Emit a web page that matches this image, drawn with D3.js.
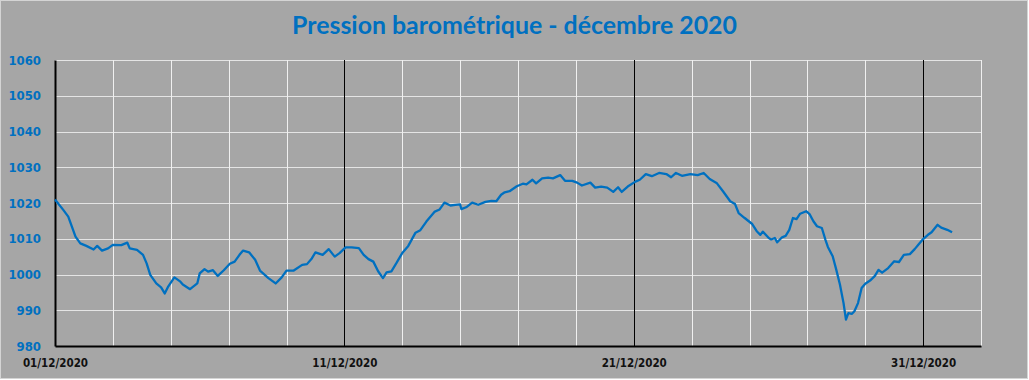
<!DOCTYPE html>
<html>
<head>
<meta charset="utf-8">
<script src="https://cdn.jsdelivr.net/npm/d3@7"></script>
<style>
  body { margin: 0; background: #ffffff; }
  svg { display: block; }
</style>
</head>
<body>
<div id="chart"></div>
<script>
// hours since 01/12/2020 00:00 and pressure (hPa)
var hours = [0, 7, 11, 14, 17, 21, 26, 32, 35, 39, 44, 48, 55, 60, 62, 68, 73, 76, 79, 84,
  88, 91, 94, 99, 104, 106, 112, 118, 120, 124, 127, 131, 135, 140, 145, 149, 153, 156, 161, 166,
  170, 177, 183, 188, 192, 198, 205, 209, 213, 216, 222, 227, 232, 236, 241, 246, 252, 256, 260, 264,
  268, 272, 275, 279, 283, 288, 293, 299, 303, 308, 315, 319, 323, 328, 332, 336, 337, 341, 346, 351,
  357, 362, 366, 370, 373, 377, 383, 388, 391, 396, 399, 404, 409, 413, 419, 423, 429, 433, 437, 444,
  448, 453, 458, 463, 467, 470, 475, 481, 485, 490, 495, 501, 507, 511, 515, 520, 527, 533, 538, 543,
  549, 554, 560, 564, 567, 572, 578, 582, 585, 587, 592, 594, 597, 599, 603, 606, 609, 612, 615, 618,
  623, 626, 629, 632, 636, 639, 641, 645, 648, 651, 654, 656, 658, 661, 663, 666, 669, 672, 676, 680,
  683, 686, 691, 696, 700, 704, 709, 713, 716, 720, 724, 727, 732, 735, 740, 744];
var pressure = [1021, 1018, 1016.2, 1013.4, 1010.6, 1008.7, 1008, 1007, 1008, 1006.7, 1007.3, 1008.3, 1008.2, 1008.9, 1007.3, 1006.9, 1005.5, 1003.1, 999.9, 997.5,
  996.4, 994.7, 996.7, 999.2, 998, 997.2, 995.9, 997.5, 1000.3, 1001.5, 1000.8, 1001.2, 999.6, 1001.2, 1003, 1003.6, 1005.5, 1006.7, 1006.2, 1004.1,
  1001.1, 999, 997.5, 999.2, 1001.1, 1001.1, 1002.7, 1002.9, 1004.5, 1006.2, 1005.5, 1007.1, 1005, 1006, 1007.6, 1007.6, 1007.4, 1005.5, 1004.3, 1003.6,
  1000.9, 999, 1000.6, 1000.9, 1003.1, 1006, 1008, 1011.7, 1012.4, 1014.8, 1017.6, 1018.2, 1020.1, 1019.3, 1019.5, 1019.6, 1018.3, 1018.8, 1020.1, 1019.5,
  1020.3, 1020.6, 1020.5, 1022.3, 1023, 1023.3, 1024.7, 1025.4, 1025.2, 1026.5, 1025.5, 1026.9, 1027.1, 1026.9, 1027.8, 1026.2, 1026.2, 1025.7, 1024.9, 1025.7,
  1024.3, 1024.6, 1024.3, 1023.1, 1024.4, 1023.1, 1024.6, 1025.9, 1026.5, 1028.1, 1027.5, 1028.4, 1028.1, 1027.2, 1028.4, 1027.6, 1028.1, 1027.8, 1028.4, 1026.7,
  1025.5, 1023.3, 1020.5, 1019.7, 1017.2, 1015.8, 1014.2, 1012.1, 1011.1, 1012, 1010.2, 1009.8, 1010.2, 1009, 1010.4, 1010.8, 1012.5, 1015.8, 1015.5, 1017,
  1017.7, 1016.8, 1014.9, 1013.5, 1013, 1009.7, 1007.7, 1005.1, 1001.3, 997.2, 992, 987.4, 989.2, 989, 989.7, 992, 996.2, 997.4, 998.3, 999.6,
  1001.3, 1000.5, 1001.8, 1003.7, 1003.5, 1005.5, 1005.7, 1007.1, 1008.3, 1009.9, 1011.1, 1011.8, 1013.9, 1013.1, 1012.5, 1011.8];
var yTicks = [980, 990, 1000, 1010, 1020, 1030, 1040, 1050, 1060];
var labelDays = [0, 10, 20, 30];
var title = "Pression barométrique - décembre 2020";

var width = 1029, height = 380;
var start = new Date(2020, 11, 1);
var end = new Date(2021, 0, 2);

var svg = d3.select("#chart").append("svg")
    .attr("width", width)
    .attr("height", height);

svg.append("rect")
    .attr("x", 0.5).attr("y", 0.5)
    .attr("width", width - 2).attr("height", height - 2)
    .attr("fill", "#a6a6a6")
    .attr("stroke", "#d4d4d4");

var x = d3.scaleTime().domain([start, end]).range([55, 981]);
var y = d3.scaleLinear().domain([980, 1060]).range([346, 60]);

var data = hours.map(function (h, i) {
    return { date: d3.timeHour.offset(start, h), value: pressure[i] };
});

// horizontal grid
svg.append("g")
    .selectAll("line")
    .data(yTicks.slice(1))
    .enter().append("line")
    .attr("x1", 55).attr("x2", 981)
    .attr("y1", function (d) { return Math.round(y(d)) + 0.5; })
    .attr("y2", function (d) { return Math.round(y(d)) + 0.5; })
    .attr("stroke", "#e4e4e4");

// vertical grid every 2 days, black every 10 days
var gridDays = d3.range(2, 33, 2);
svg.append("g")
    .selectAll("line")
    .data(gridDays)
    .enter().append("line")
    .attr("x1", function (d) { return Math.round(x(d3.timeDay.offset(start, d))) + 0.5; })
    .attr("x2", function (d) { return Math.round(x(d3.timeDay.offset(start, d))) + 0.5; })
    .attr("y1", 60).attr("y2", 346)
    .attr("stroke", function (d) { return d % 10 == 0 ? "#000000" : "#f0f0f0"; });

// axes
var yaxis = d3.axisLeft(y).tickValues(yTicks).tickFormat(d3.format("d")).tickSize(0).tickPadding(14);
var gy = svg.append("g").attr("transform", "translate(55,0)").call(yaxis);
gy.select(".domain").attr("stroke", "#000").attr("stroke-width", 2);
gy.selectAll("text")
    .attr("fill", "#0070c0")
    .attr("font-family", "DejaVu Sans Condensed, DejaVu Sans")
    .attr("font-weight", "bold")
    .attr("font-size", 13);

var xaxis = d3.axisBottom(x)
    .tickValues(labelDays.map(function (d) { return d3.timeDay.offset(start, d); }))
    .tickFormat(d3.timeFormat("%d/%m/%Y"))
    .tickSize(0).tickPadding(13);
var gx = svg.append("g").attr("transform", "translate(0,346)").call(xaxis);
gx.select(".domain").attr("stroke", "#000").attr("stroke-width", 2);
gx.selectAll("text")
    .attr("fill", "#111111")
    .attr("font-family", "DejaVu Sans Condensed, DejaVu Sans")
    .attr("font-weight", "bold")
    .attr("font-size", 11.5);

// pressure line
var line = d3.line()
    .x(function (d) { return x(d.date); })
    .y(function (d) { return y(d.value); });

svg.append("path")
    .datum(data)
    .attr("d", line)
    .attr("fill", "none")
    .attr("stroke", "#0070c0")
    .attr("stroke-width", 2.3)
    .attr("stroke-linejoin", "round");

// title, sized to the width it has in the picture
var t = svg.append("text")
    .attr("x", 514.5).attr("y", 34)
    .attr("text-anchor", "middle")
    .attr("fill", "#0070c0")
    .attr("font-family", "Lato, Open Sans, sans-serif")
    .attr("font-weight", "bold")
    .attr("font-size", 24)
    .text(title);
var w = t.node().getComputedTextLength();
t.attr("font-size", 24 * 445 / w);
</script>
</body>
</html>
